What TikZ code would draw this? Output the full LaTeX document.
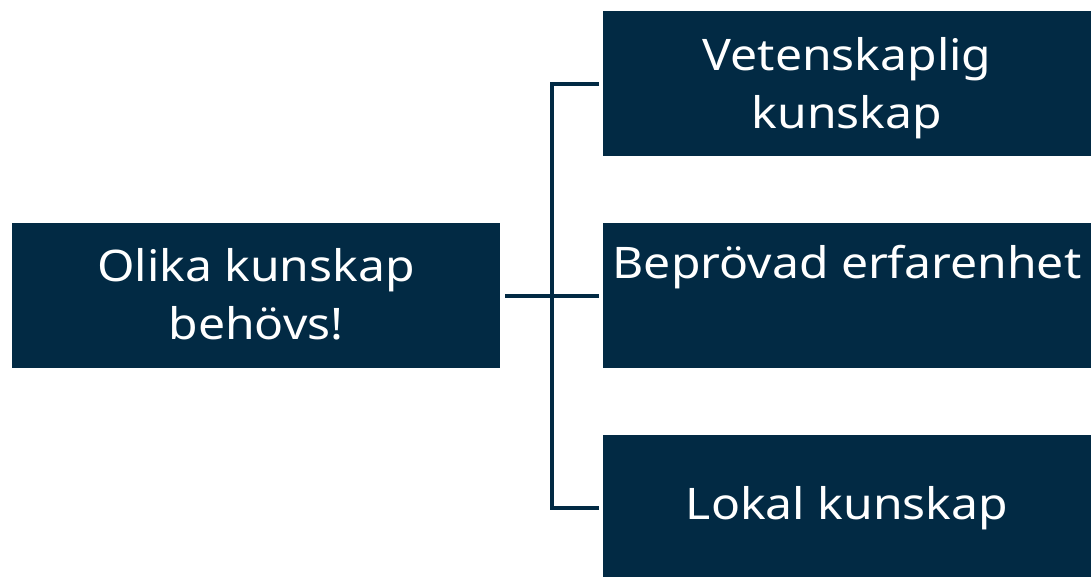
\documentclass[tikz,border=0pt]{standalone}
\usepackage{fontspec}
\setmainfont{Noto Sans}[FakeStretch=1.105]
\definecolor{navy}{RGB}{2,42,68}
\begin{document}
\begin{tikzpicture}[x=1pt,y=-1pt,
  box/.style={fill=navy,draw=none,minimum width=488pt,minimum height=145pt,inner sep=0pt,outer sep=0pt},
  lbl/.style={text=white,anchor=base,inner sep=0pt,font=\fontsize{43.5}{58}\selectfont},
  conn/.style={draw=navy,line width=4pt,line cap=butt,line join=miter}]
\useasboundingbox (0,0) rectangle (1091,576);
\node[box] (L) at (256,295.5) {};
\node[box] (R1) at (847,83.5) {};
\node[box] (R2) at (847,295.5) {};
\node[box] (R3) at (847,507.5) {};
\node[lbl] (t1) at (256,281) {Olika kunskap};
\node[lbl] (t2) at (256,339) {behövs!};
\node[lbl] (t3) at (847,70) {Vetenskaplig};
\node[lbl] (t4) at (847,128) {kunskap};
\node[lbl] (t5) at (847,278) {Beprövad erfarenhet};
\node[lbl] (t6) at (847,519) {Lokal kunskap};
\coordinate (j) at (552,295.5);
\draw[conn,shorten <=5pt,shorten >=4pt] (L.east) -- (R2.west);
\draw[conn] ([xshift=-4pt]R1.west) -| (j) |- ([xshift=-4pt]R3.west);
\end{tikzpicture}
\end{document}
